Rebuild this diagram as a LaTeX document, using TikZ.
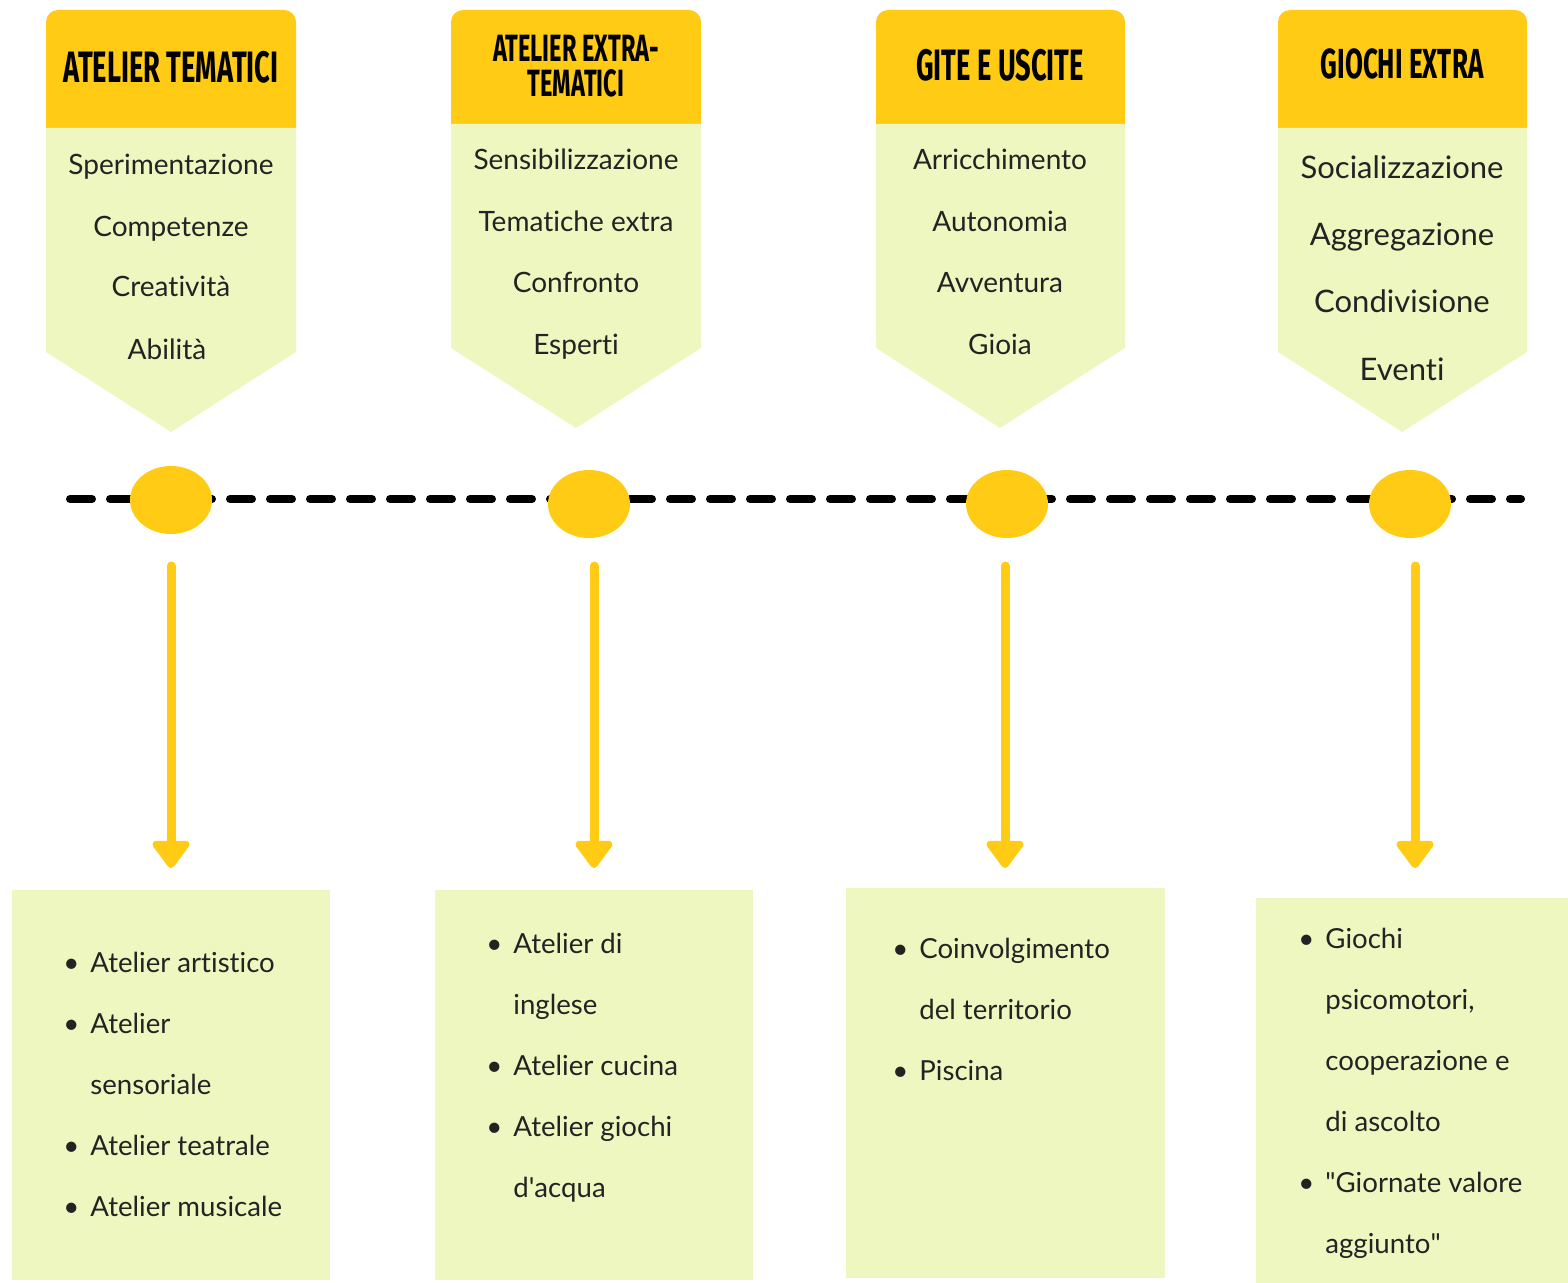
\documentclass[tikz,border=0pt]{standalone}
\usepackage{fontspec}
\setmainfont[Ligatures={NoCommon}]{Lato}
\newfontfamily\headfont[FakeStretch=0.62]{Fira Sans}
\usetikzlibrary{arrows.meta,shapes.geometric}
\definecolor{ylw}{RGB}{255,203,20}
\definecolor{lgreen}{RGB}{238,247,192}
\definecolor{txt}{RGB}{35,35,35}
\tikzset{
  hdr/.style={fill=ylw,rounded corners=6pt},
  body/.style={fill=lgreen},
  htext/.style={font=\headfont\bfseries\fontsize{22}{18}\selectfont, text=black, inner sep=0pt, anchor=base},
  subtext/.style={font=\fontsize{14}{15}\selectfont, text=txt, inner sep=0pt, anchor=base},
  subbig/.style={subtext, font=\fontsize{15.5}{17}\selectfont},
  listtext/.style={font=\fontsize{13.8}{30.5}\selectfont, text=txt, inner sep=0pt, anchor=base west},
  dot/.style={ellipse, fill=ylw, minimum width=41pt, minimum height=34pt, inner sep=0pt},
  tl/.style={line width=4pt, line cap=round, dash pattern=on 11pt off 9pt},
  arr/.style={draw=ylw, line width=4.5pt, line cap=round, -{Triangle[width=21pt,length=15pt,round]}},
}
\newcommand{\lst}[1]{\begin{tabular}[t]{@{}p{13.5pt}@{}l@{}}#1\end{tabular}}
\begin{document}
\begin{tikzpicture}[x=0.5pt,y=-0.5pt]
\useasboundingbox (0,0) rectangle (1568,1283);
% headers
\fill[hdr] (46,10) rectangle (296,140);
\fill[body] (46,128) -- (296,128) -- (296,352) -- (171,432) -- (46,352) -- cycle;
\fill[hdr] (451,10) rectangle (701,136);
\fill[body] (451,124) -- (701,124) -- (701,348) -- (576,428) -- (451,348) -- cycle;
\fill[hdr] (876,10) rectangle (1125,136);
\fill[body] (876,124) -- (1125,124) -- (1125,348) -- (1000,428) -- (876,348) -- cycle;
\fill[hdr] (1278,10) rectangle (1527,140);
\fill[body] (1278,128) -- (1527,128) -- (1527,352) -- (1402,432) -- (1278,352) -- cycle;

\node[htext] (h1) at (171,83) {ATELIER TEMATICI};
\node[htext, font=\headfont\bfseries\fontsize{19}{17.5}\selectfont] (h2a) at (576,62) {ATELIER EXTRA-};
\node[htext, font=\headfont\bfseries\fontsize{19}{17.5}\selectfont] (h2b) at (576,97) {TEMATICI};
\node[htext] (h3) at (1000,81) {GITE E USCITE};
\node[htext, font=\headfont\bfseries\fontsize{21}{18}\selectfont] (h4) at (1402,79) {GIOCHI EXTRA};

\node[subtext] (s11) at (171,175) {Sperimentazione};
\node[subtext] (s12) at (171,237) {Competenze};
\node[subtext] (s13) at (171,297) {Creatività};
\node[subtext] (s14) at (167,360) {Abilità};

\node[subtext] (s21) at (576,170) {Sensibilizzazione};
\node[subtext] (s22) at (576,232) {Tematiche extra};
\node[subtext] (s23) at (576,293) {Confronto};
\node[subtext] (s24) at (576,355) {Esperti};

\node[subtext] (s31) at (1000,170) {Arricchimento};
\node[subtext] (s32) at (1000,232) {Autonomia};
\node[subtext] (s33) at (1000,293) {Avventura};
\node[subtext] (s34) at (1000,355) {Gioia};

\node[subbig] (s41) at (1402,179) {Socializzazione};
\node[subbig] (s42) at (1402,246) {Aggregazione};
\node[subbig] (s43) at (1402,313) {Condivisione};
\node[subbig] (s44) at (1402,380) {Eventi};

% timeline
\coordinate (tlL) at (70,499);
\coordinate (tlR) at (1521,499);
\draw[tl] (tlL) -- (tlR);
\node[dot] (c1) at (171,500) {};
\node[dot] (c2) at (589,504) {};
\node[dot] (c3) at (1007,504) {};
\node[dot] (c4) at (1410,504) {};

% boxes
\fill[body] (12,890) rectangle (330,1280) coordinate (b1);
\fill[body] (435,890) rectangle (753,1280) coordinate (b2);
\fill[body] (846,888) rectangle (1165,1278) coordinate (b3);
\fill[body] (1256,898) rectangle (1568,1283) coordinate (b4);

% arrows
\coordinate (a1s) at (171,566); \coordinate (a1e) at (171,868);
\coordinate (a2s) at (594,566); \coordinate (a2e) at (594,868);
\coordinate (a3s) at (1005,566); \coordinate (a3e) at (1005,868);
\coordinate (a4s) at (1415,566); \coordinate (a4e) at (1415,868);
\draw[arr] (a1s) -- (a1e);
\draw[arr] (a2s) -- (a2e);
\draw[arr] (a3s) -- (a3e);
\draw[arr] (a4s) -- (a4e);

% lists
\node[listtext] (l1) at (63,972) {\lst{\textbullet & Atelier artistico\\ \textbullet & Atelier\\ & sensoriale\\ \textbullet & Atelier teatrale\\ \textbullet & Atelier musicale}};
\node[listtext] (l2) at (486,953) {\lst{\textbullet & Atelier di\\ & inglese\\ \textbullet & Atelier cucina\\ \textbullet & Atelier giochi\\ & d\textquotesingle acqua}};
\node[listtext] (l3) at (892,958) {\lst{\textbullet & Coinvolgimento\\ & del territorio\\ \textbullet & Piscina}};
\node[listtext] (l4) at (1298,948) {\lst{\textbullet & Giochi\\ & psicomotori,\\ & cooperazione e\\ & di ascolto\\ \textbullet & \textquotedbl Giornate valore\\ & aggiunto\textquotedbl}};
\end{tikzpicture}
\end{document}
